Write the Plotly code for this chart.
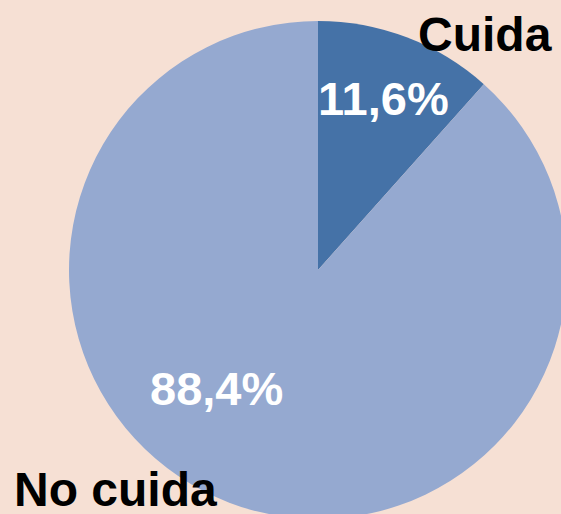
import plotly.graph_objects as go

labels = ["Cuida", "No cuida"]
values = [11.6, 88.4]
colors = ["#4572A7", "#95A9D0"]

bg = "#F6E0D4"
# figure slightly larger than the window so the pie may run off the right/bottom edges
W, H = 567, 519

def px(x, y):
    return x / W, 1 - y / H

total = sum(values)
pct = [f"{v / total * 100:.1f}%".replace(".", ",") for v in values]

fig = go.Figure(go.Pie(
    labels=labels,
    values=values,
    marker=dict(colors=colors, line=dict(width=0)),
    sort=False,
    direction="clockwise",
    rotation=0,
    textinfo="none",
    hoverinfo="label+percent",
    domain=dict(x=[69 / W, 1.0], y=[0.0, 1 - 21 / H]),
    showlegend=False,
))

font_b = "Liberation Sans, Arial, sans-serif"
ann = []
label_pos = [(485, 35), (115, 489)]
pct_pos = [(383, 99), (216, 388)]
for lab, (x, y) in zip(labels, label_pos):
    ax, ay = px(x, y)
    ann.append(dict(text=f"<b>{lab}</b>", x=ax, y=ay, xref="paper", yref="paper",
                    showarrow=False, xanchor="center", yanchor="middle",
                    font=dict(family=font_b, size=48, color="#000000")))
for p, (x, y) in zip(pct, pct_pos):
    ax, ay = px(x, y)
    ann.append(dict(text=f"<b>{p}</b>", x=ax, y=ay, xref="paper", yref="paper",
                    showarrow=False, xanchor="center", yanchor="middle",
                    font=dict(family=font_b, size=47, color="#FFFFFF")))

fig.update_layout(
    width=W, height=H,
    margin=dict(l=0, r=0, t=0, b=0),
    paper_bgcolor=bg, plot_bgcolor=bg,
    annotations=ann,
)

fig.write_html("out.html",
               config={"displayModeBar": False},
               post_script="document.body.style.margin='0';document.body.style.overflow='hidden';")
